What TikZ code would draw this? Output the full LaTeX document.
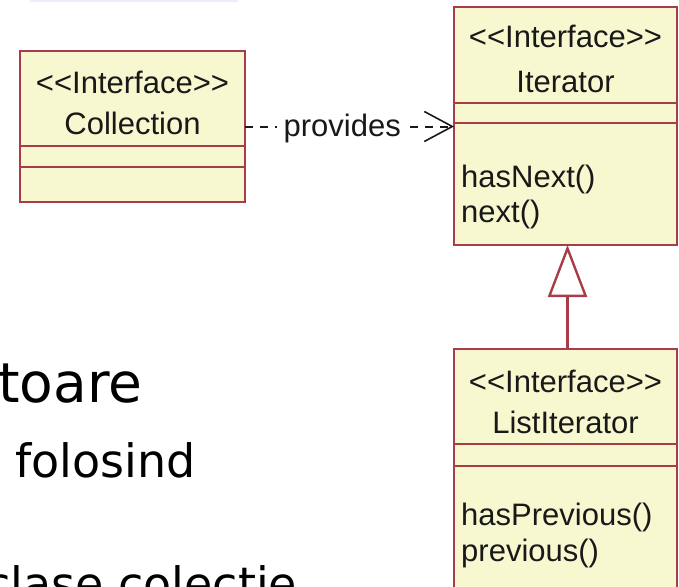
\documentclass[tikz,border=0pt]{standalone}
\usepackage{fontspec}
\setmainfont{Liberation Sans}
\newfontfamily\slidefont{DejaVu Sans}
\usetikzlibrary{arrows.meta}
\usetikzlibrary{calc}
\definecolor{umlred}{RGB}{168,60,72}
\definecolor{umlfill}{RGB}{248,248,208}
\definecolor{umltext}{RGB}{25,25,25}
\definecolor{slidebar}{RGB}{236,236,250}
\tikzset{
  umlbox/.style={draw=umlred, fill=umlfill, line width=2.6pt, rectangle, anchor=north west, outer sep=0pt, inner sep=0pt},
  umlsep/.style={draw=umlred, line width=2.4pt},
  umltxt/.style={font=\fontsize{31}{36}\selectfont, text=umltext, inner sep=0pt, anchor=base},
  umlop/.style={umltxt, anchor=base west},
  umldep/.style={draw=umltext, line width=2pt, dash pattern=on 8pt off 7pt, -{Straight Barb[length=28pt, width=30pt, line width=1.6pt]}},
  umlgen/.style={draw=umlred, line width=2.4pt, -{Triangle[open, length=52pt, width=39pt]}},
  slidetxt/.style={text=black, inner sep=0pt, anchor=base west},
}
\newcommand{\stereo}{<{}<Interface>{}>}

\begin{document}
\begin{tikzpicture}[x=1pt,y=-1pt]
  \useasboundingbox (0,0) rectangle (679,586);
  \fill[slidebar] (30,0) rectangle (238,2);

  % slide text behind the diagram
  \node[slidetxt, font=\slidefont\fontsize{55}{60}\selectfont] (line1) at (-2,402) {toare};
  \node[slidetxt, font=\slidefont\fontsize{46}{52}\selectfont] (line2) at (15,477) {folosind};
  \node[slidetxt, font=\slidefont\fontsize{46}{52}\selectfont] (line3) at (-15,600) {clase colectie};

  % classes
  \node[umlbox, minimum width=225pt, minimum height=151pt] (coll) at (20,51) {};
  \node[umlbox, minimum width=223pt, minimum height=238pt] (iter) at (454,7) {};
  \node[umlbox, minimum width=223pt, minimum height=280pt] (list) at (454,349) {};
  \foreach \b/\o in {coll/95,coll/116,iter/96,iter/116,list/95,list/117}
    \draw[umlsep] ($(\b.north west)+(0,\o)$) -- ($(\b.north east)+(0,\o)$);

  \node[umltxt] (coll-st) at (132.5,93) {\stereo};
  \node[umltxt] (coll-name) at (132.5,134) {Collection};

  \node[umltxt] (iter-st) at (565.5,48) {\stereo};
  \node[umltxt] (iter-name) at (565.5,92) {Iterator};
  \node[umlop] (iter-op1) at (461,187) {hasNext()};
  \node[umlop] (iter-op2) at (461,222) {next()};

  \node[umltxt] (list-st) at (565.5,392) {\stereo};
  \node[umltxt] (list-name) at (565.5,433) {ListIterator};
  \node[umlop] (list-op1) at (461,525) {hasPrevious()};
  \node[umlop] (list-op2) at (461,561) {previous()};

  % relations
  \draw[umldep] (coll.east) -- node[umltxt, fill=white, inner xsep=7pt, inner ysep=1pt, pos=0.465, yshift=-10pt] (dep-lbl) {provides} (coll.east -| iter.west);
  \draw[umlgen] ([xshift=2pt]list.north) -- ([xshift=2pt]iter.south);
\end{tikzpicture}
\end{document}
